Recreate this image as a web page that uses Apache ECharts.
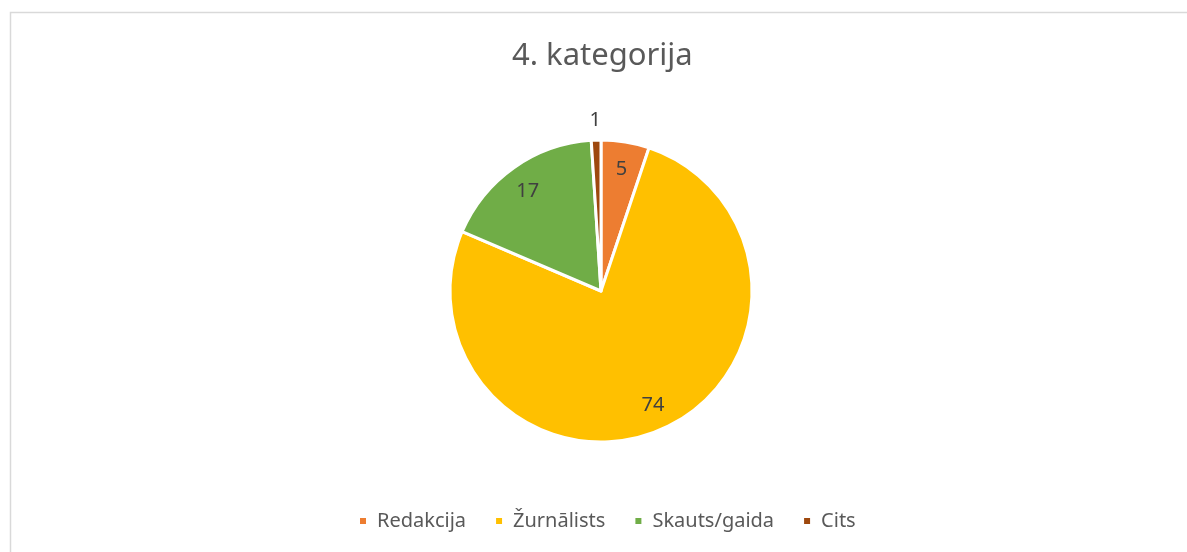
<!DOCTYPE html>
<html>
<head>
<meta charset="utf-8">
<script src="https://cdn.jsdelivr.net/npm/echarts@6/dist/echarts.min.js"></script>
<style>
  html, body { margin: 0; padding: 0; background: #fff; }
  #chart { width: 1187px; height: 552px; }
</style>
</head>
<body>
<div id="chart"></div>
<script>
// 数据
const categories = ['Redakcija', 'Žurnālists', 'Skauts/gaida', 'Cits'];
const values = [5, 74, 17, 1];
const colors = ['#ED7D31', '#FFC000', '#70AD47', '#9E480E'];

const font = '"Noto Sans", sans-serif';
const center = [601, 291];
// 标签微调（仅样式）
const labelShiftY = [4, -2, 4, 4];

const chart = echarts.init(document.getElementById('chart'));

const pieData = categories.map((name, i) => ({
  name: name,
  value: values[i],
  itemStyle: { color: colors[i] }
}));

chart.setOption({
  animation: false,
  title: {
    text: '4. kategorija',
    left: 507,
    top: 36,
    textStyle: { fontFamily: font, fontSize: 31, fontWeight: 'normal', color: '#595959' }
  },
  legend: {
    bottom: 16,
    left: 353,
    icon: 'rect',
    itemWidth: 8,
    itemHeight: 8,
    itemGap: 28,
    data: categories,
    textStyle: { fontFamily: font, fontSize: 20, color: '#595959', padding: [0, 0, 0, 5] }
  },
  graphic: [{
    type: 'polyline',
    shape: { points: [[10.5, 552], [10.5, 12.5], [1187, 12.5]] },
    style: { stroke: '#d9d9d9', lineWidth: 1.5, fill: null },
    silent: true
  }],
  series: [
    {
      // 主饼图
      type: 'pie',
      center: center,
      radius: [0, 151],
      startAngle: 90,
      clockwise: true,
      label: { show: false },
      labelLine: { show: false },
      itemStyle: { borderColor: '#fff', borderWidth: 3 },
      data: pieData
    },
    {
      // 内部标签
      type: 'pie',
      center: center,
      radius: [97, 151],
      startAngle: 90,
      silent: true,
      legendHoverLink: false,
      itemStyle: { color: 'rgba(0,0,0,0)' },
      label: {
        show: true,
        position: 'inside',
        formatter: '{c}',
        fontFamily: font,
        fontSize: 20,
        color: '#404040'
      },
      labelLayout: function (params) {
        return { dy: labelShiftY[params.dataIndex] };
      },
      data: categories.map((name, i) => ({
        name: name,
        value: values[i],
        label: { show: i !== 3 }
      }))
    },
    {
      // 外部标签
      type: 'pie',
      center: center,
      radius: [160, 184],
      startAngle: 90,
      silent: true,
      legendHoverLink: false,
      itemStyle: { color: 'rgba(0,0,0,0)' },
      label: {
        show: true,
        position: 'inside',
        formatter: '{c}',
        fontFamily: font,
        fontSize: 20,
        color: '#404040'
      },
      labelLayout: function (params) {
        return { dy: labelShiftY[params.dataIndex] };
      },
      data: categories.map((name, i) => ({
        name: name,
        value: values[i],
        label: { show: i === 3 }
      }))
    }
  ]
});
</script>
</body>
</html>
